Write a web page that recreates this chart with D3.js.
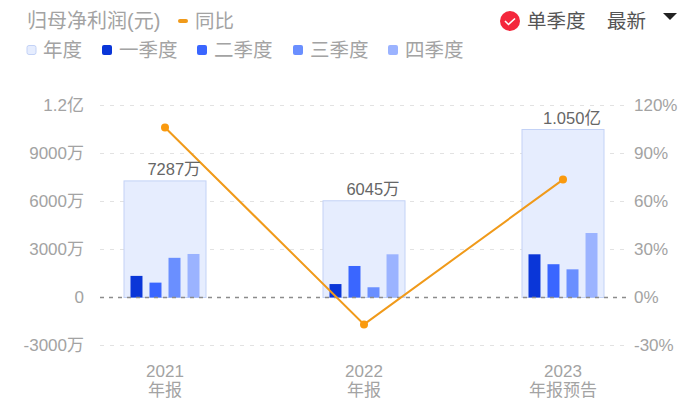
<!DOCTYPE html>
<html><head><meta charset="utf-8">
<script src="https://cdn.jsdelivr.net/npm/d3@7"></script>
<style>
html,body{margin:0;padding:0;background:#fff}
svg{display:block}
text{font-family:"Liberation Sans","Noto Sans CJK SC",sans-serif}
</style></head><body>
<svg id="c" width="700" height="413"></svg>
<script>
const categories=["2021","2022","2023"];
const subLabels=["年报","年报","年报预告"];
const annual=[7287,6045,10500];
const annualLabels=["7287万","6045万","1.050亿"];
const q1=[1350,840,2700];
const q2=[930,1970,2080];
const q3=[2480,640,1760];
const q4=[2720,2700,4030];
const yoy=[106.3,-16.8,73.7];
const leftTicks=[-3000,0,3000,6000,9000,12000];
const leftTickLabels=["-3000万","0","3000万","6000万","9000万","1.2亿"];
const rightTicks=[-30,0,30,60,90,120];
const quarterNames=["一季度","二季度","三季度","四季度"];
const quarterColors=["#0a36d8","#3a66ff","#6a8fff","#9bb3ff"];
const quarters=[q1,q2,q3,q4];

const svg=d3.select("#c");
const grey="#a3a3a3";
const y=d3.scaleLinear().domain([-3000,12000]).range([345.5,105.5]);
const yR=d3.scaleLinear().domain([-30,120]).range([345.5,105.5]);
const x=d3.scalePoint().domain(categories).range([165,563]);
const boxW=82;
const qx=d3.scaleBand().domain(d3.range(4)).range([-34.5,34.5]).paddingInner(0.37).paddingOuter(0);

const axL=d3.axisLeft(y).tickValues(leftTicks).tickFormat((d,i)=>leftTickLabels[i]).tickSize(0).tickPadding(0);
const gL=svg.append("g").attr("transform","translate(84,0)").call(axL);
gL.select(".domain").remove();
gL.selectAll("text").attr("fill",grey).attr("font-size",17);
const axR=d3.axisRight(yR).tickValues(rightTicks).tickFormat(d=>d+"%").tickSize(0).tickPadding(0);
const gR=svg.append("g").attr("transform","translate(634,0)").call(axR);
gR.select(".domain").remove();
gR.selectAll("text").attr("fill",grey).attr("font-size",17);

svg.append("g").selectAll("line").data(leftTicks.filter(d=>d!==0)).join("line")
  .attr("x1",100).attr("x2",628).attr("y1",d=>y(d)).attr("y2",d=>y(d))
  .attr("stroke","#e2e2e2").attr("stroke-width",1.2).attr("stroke-dasharray","4 6");

svg.append("g").selectAll("rect").data(annual).join("rect")
  .attr("x",(d,i)=>x(categories[i])-boxW/2).attr("width",boxW)
  .attr("y",d=>y(d)).attr("height",d=>y(0)-y(d))
  .attr("fill","#e6edfe").attr("stroke","#c3d2f6").attr("stroke-width",1);

quarters.forEach((s,k)=>{
  svg.append("g").selectAll("rect").data(s).join("rect")
    .attr("x",(d,i)=>x(categories[i])+qx(k)).attr("width",qx.bandwidth())
    .attr("y",d=>y(d)).attr("height",d=>y(0)-y(d))
    .attr("fill",quarterColors[k]);
});

svg.append("line").attr("x1",100).attr("x2",628).attr("y1",y(0)).attr("y2",y(0))
  .attr("stroke","#8c8c8c").attr("stroke-width",1.6).attr("stroke-dasharray","4 5");

const line=d3.line().x((d,i)=>x(categories[i])).y(d=>yR(d));
svg.append("path").datum(yoy).attr("d",line).attr("fill","none").attr("stroke","#f09a1a").attr("stroke-width",2);
svg.append("g").selectAll("circle").data(yoy).join("circle")
  .attr("cx",(d,i)=>x(categories[i])).attr("cy",d=>yR(d)).attr("r",4).attr("fill","#fa9a0e");

svg.append("g").selectAll("text").data(annual).join("text")
  .attr("x",(d,i)=>x(categories[i])+9).attr("y",d=>y(d)-6)
  .attr("text-anchor","middle").attr("fill","#666").attr("font-size",16.5)
  .text((d,i)=>annualLabels[i]);

svg.append("g").selectAll("text").data(categories).join("text")
  .attr("x",d=>x(d)).attr("y",377).attr("text-anchor","middle").attr("fill",grey).attr("font-size",17).text(d=>d);
svg.append("g").selectAll("text").data(subLabels).join("text")
  .attr("x",(d,i)=>x(categories[i])).attr("y",396).attr("text-anchor","middle").attr("fill",grey).attr("font-size",17).text(d=>d);

const T=(tx,ty,s,fs,c)=>svg.append("text").attr("x",tx).attr("y",ty).attr("font-size",fs).attr("fill",c).text(s);
T(27,28,"归母净利润(元)",20,grey);
svg.append("rect").attr("x",178).attr("y",19).attr("width",10).attr("height",4).attr("rx",2).attr("fill","#f09a1a");
T(195,28,"同比",19.5,grey);
svg.append("rect").attr("x",27).attr("y",45.5).attr("width",9).attr("height",9).attr("rx",2).attr("fill","#e6edfe").attr("stroke","#c3d2f6");
T(43,57,"年度",19.5,grey);
const lx=[102,197,293,388], sx=[119,214,310,405];
quarterNames.forEach((n,i)=>{
  svg.append("rect").attr("x",lx[i]).attr("y",45).attr("width",10).attr("height",10).attr("rx",2).attr("fill",quarterColors[i]);
  T(sx[i],57,n,19.5,grey);
});
svg.append("circle").attr("cx",510).attr("cy",21).attr("r",10).attr("fill","#f4273c");
svg.append("path").attr("d","M505 21 l3.5 3.5 l6.5 -6").attr("fill","none").attr("stroke","#fff").attr("stroke-width",1.6);
T(527,28,"单季度",19.5,"#555");
T(607,28,"最新",19.5,"#555");
svg.append("path").attr("d","M663 13 L677 13 L670 20 Z").attr("fill","#222");
</script>
</body></html>
